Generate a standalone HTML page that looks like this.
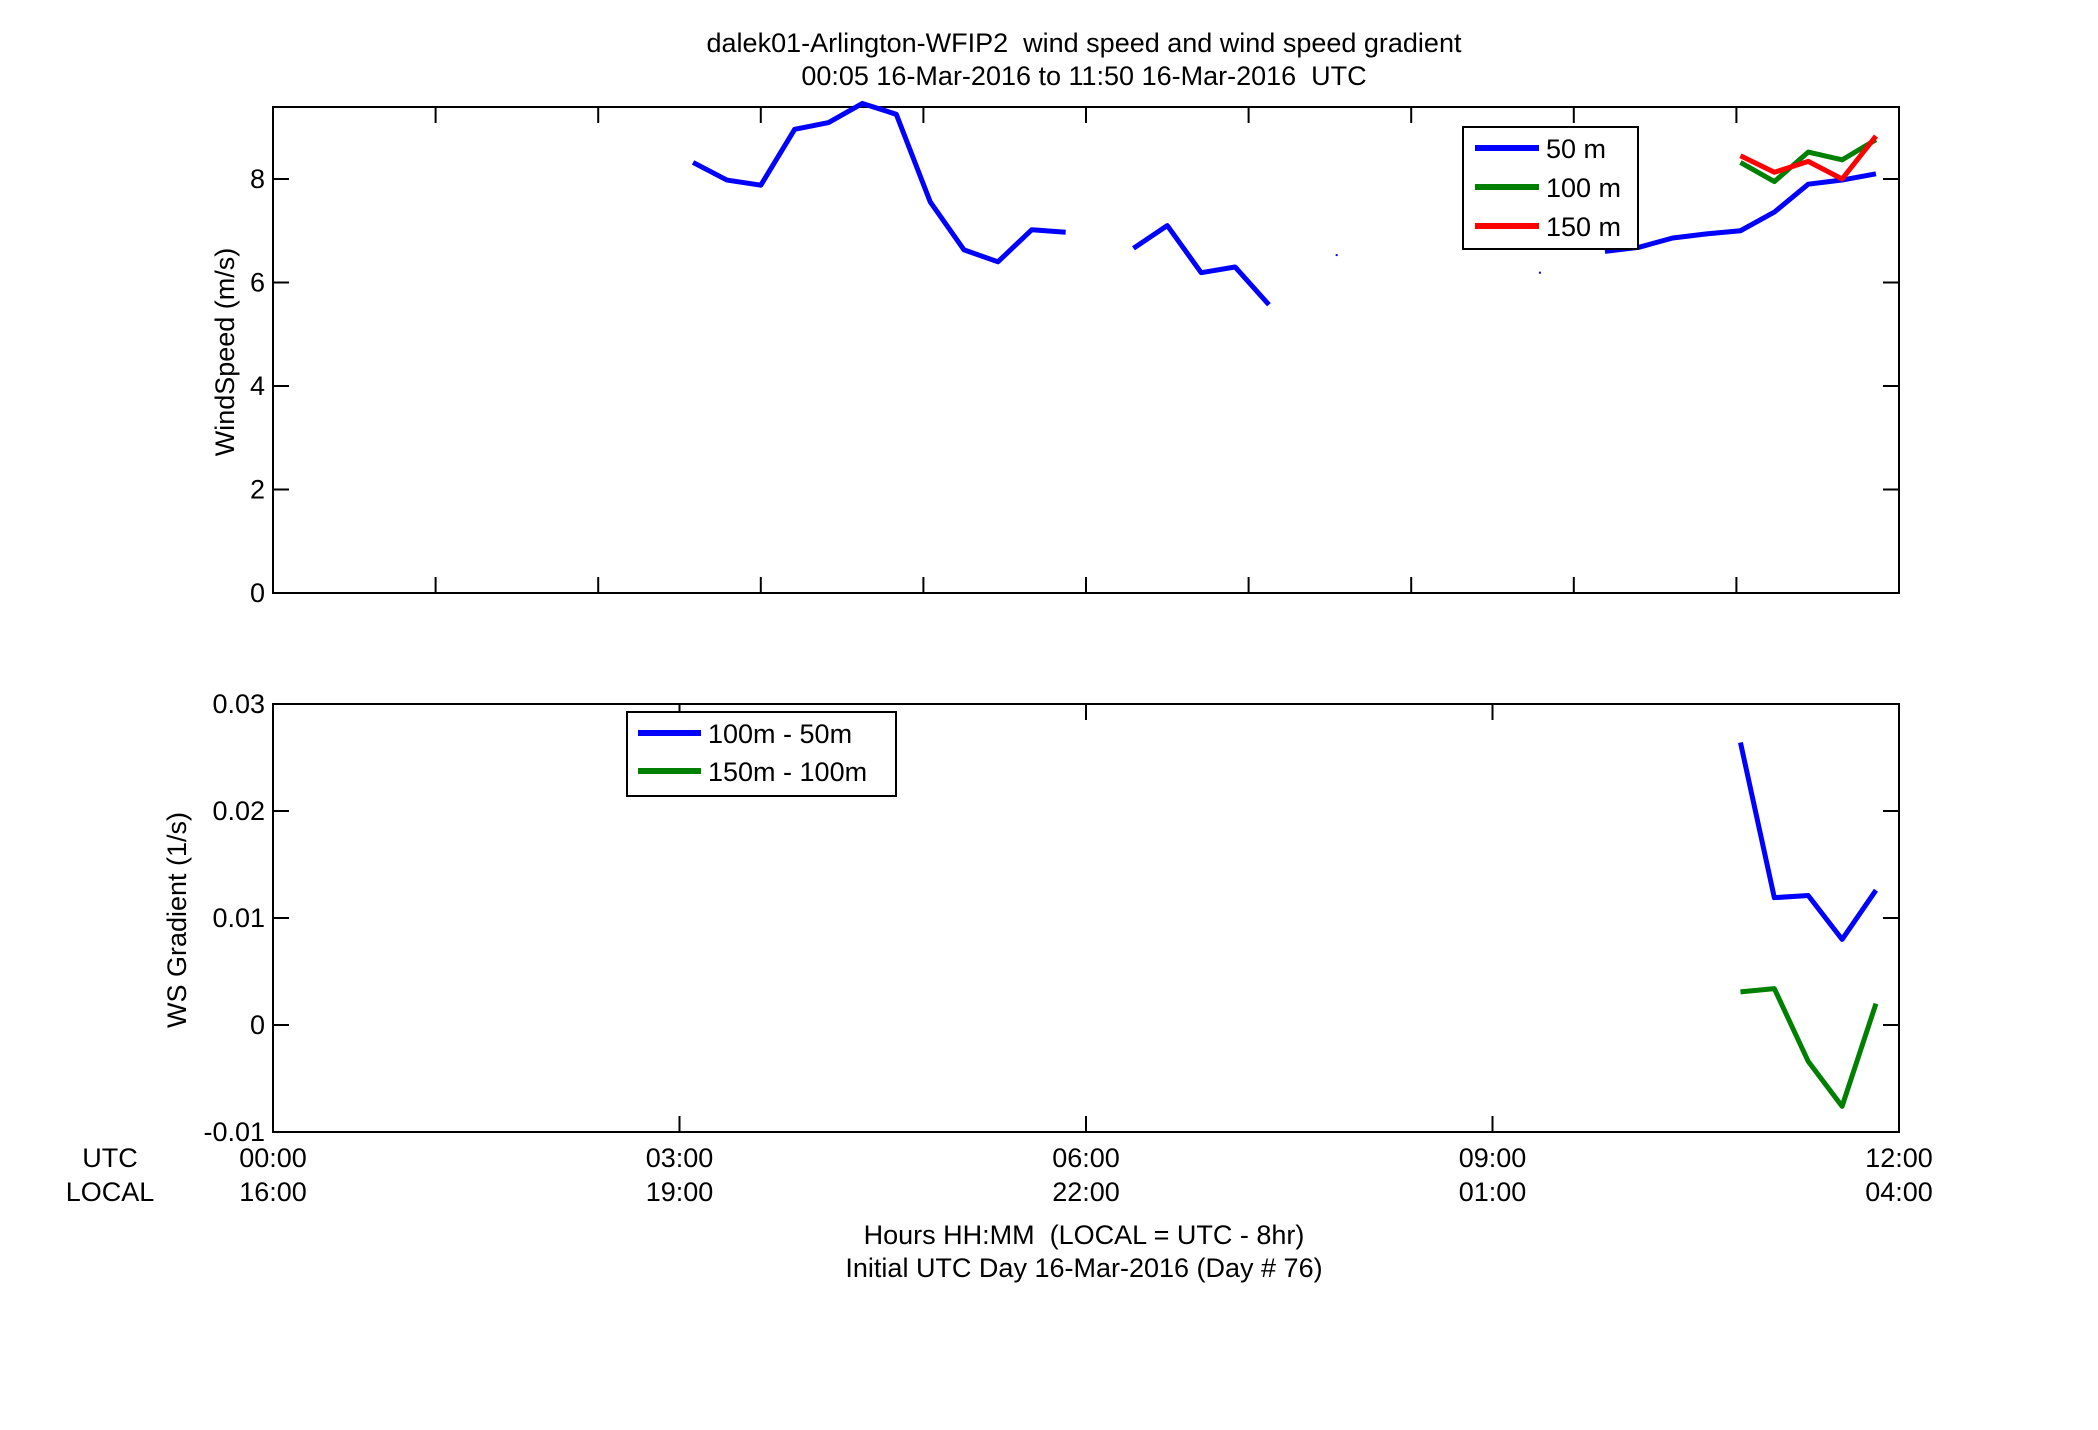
<!DOCTYPE html>
<html><head><meta charset="utf-8"><style>
body{margin:0;background:#fff}
svg text{font-family:"Liberation Sans",sans-serif;font-size:27px;fill:#000;white-space:pre}
</style></head><body>
<svg width="2098" height="1425" viewBox="0 0 2098 1425" xmlns="http://www.w3.org/2000/svg" xml:space="preserve">
<g id="root"></g>
</svg>
<script>
const topTimes = [3.10,3.35,3.60,3.85,4.10,4.35,4.60,4.85,5.10,5.35,5.60,5.85,6.10,6.35,6.60,6.85,7.10,7.35,7.60,7.85,8.10,8.35,8.60,8.85,9.10,9.35,9.60,9.83,10.08,10.33,10.58,10.83,11.08,11.33,11.58,11.83];
const ws50 = [8.32,7.98,7.88,8.96,9.09,9.46,9.25,7.56,6.63,6.40,7.02,6.97,null,6.66,7.10,6.19,6.30,5.57,null,6.53,null,null,null,null,null,6.19,null,6.60,6.68,6.86,6.94,7.00,7.36,7.90,7.98,8.10];
const gradTimes = [10.83,11.08,11.33,11.58,11.83];
const ws100 = [8.32,7.95,8.52,8.37,8.76];
const ws150 = [8.45,8.13,8.34,8.00,8.83];
const grad1 = [0.0264,0.0119,0.0121,0.0080,0.0126];
const grad2 = [0.0031,0.0034,-0.0034,-0.0076,0.0020];
const wsTicks = [0,2,4,6,8];
const gradTicks = [0.03,0.02,0.01,0,-0.01];
const gradTickLabels = ["0.03","0.02","0.01","0","-0.01"];
const utcLabels = ["00:00","03:00","06:00","09:00","12:00"];
const localLabels = ["16:00","19:00","22:00","01:00","04:00"];
const utcHours = [0,3,6,9,12];

const NS="http://www.w3.org/2000/svg";
const root=document.getElementById('root');
const L=273,R=1899;
const T1=107,B1=593,T2=704,B2=1132;
const yMax1=(B1-T1)/((B1-179)/8);
const x=h=>L+(R-L)*h/12;
const y1=v=>B1-(B1-T1)*v/yMax1;
const y2=v=>B2-(B2-T2)*(v+0.01)/0.04;
function mk(tag,attrs,txt){const e=document.createElementNS(NS,tag);for(const k in attrs)e.setAttribute(k,attrs[k]);if(txt!==undefined)e.textContent=txt;root.appendChild(e);return e;}
function line(x1,y1_,x2,y2_,name){const e=mk('line',{x1:x1,y1:y1_,x2:x2,y2:y2_,stroke:'#000','stroke-width':2});

return e;}
function text(tx,ty,s,anchor,name,extra){const e=mk('text',Object.assign({x:tx,y:ty,'text-anchor':anchor},extra||{}),s);

return e;}
function series(xs,ys,yf,color,name){let segs=[],cur=[];xs.forEach((t,i)=>{if(ys[i]===null){if(cur.length)segs.push(cur);cur=[];}else cur.push([x(t),yf(ys[i])]);});if(cur.length)segs.push(cur);
segs.forEach(s=>{let d;if(s.length===1){d=`M${s[0][0]-1},${s[0][1]}L${s[0][0]+1},${s[0][1]}`;}else d='M'+s.map(p=>p.join(',')).join('L');
const p=mk('path',{d:d,fill:'none',stroke:color,'stroke-width':s.length===1?2:5,'stroke-linejoin':'round'});

});}

text(1084,52,"dalek01-Arlington-WFIP2  wind speed and wind speed gradient","middle","chart-title");
text(1084,85,"00:05 16-Mar-2016 to 11:50 16-Mar-2016  UTC","middle","chart-subtitle");

const ax1=mk('rect',{x:L,y:T1,width:R-L,height:B1-T1,fill:'none',stroke:'#000','stroke-width':2});


wsTicks.forEach(v=>{line(L,y1(v),L+16,y1(v),'y-tick');line(R-16,y1(v),R,y1(v),'y-tick');text(L-8,y1(v)+9,String(v),'end','y-tick-label');});
for(let i=1;i<10;i++){const h=1.2*i;line(x(h),T1,x(h),T1+16,'x-tick');line(x(h),B1-16,x(h),B1,'x-tick');}
text(0,0,"WindSpeed (m/s)","middle","y-axis-title-windspeed",{transform:`translate(234,352) rotate(-90)`});
series(topTimes,ws50,y1,'#0000ff','line-50m');
series(gradTimes,ws100,y1,'#008000','line-100m');
series(gradTimes,ws150,y1,'#ff0000','line-150m');
const lg1=mk('rect',{x:1463,y:127,width:175,height:122,fill:'#fff',stroke:'#000','stroke-width':2});


[['50 m','#0000ff',148],['100 m','#008000',187],['150 m','#ff0000',226]].forEach(([s,c,yy])=>{const l=mk('line',{x1:1475,y1:yy,x2:1539,y2:yy,stroke:c,'stroke-width':6});


text(1546,yy+10,s,'start','legend-entry');});

const ax2=mk('rect',{x:L,y:T2,width:R-L,height:B2-T2,fill:'none',stroke:'#000','stroke-width':2});


gradTicks.forEach((v,i)=>{line(L,y2(v),L+16,y2(v),'y-tick');line(R-16,y2(v),R,y2(v),'y-tick');text(L-8,y2(v)+9,gradTickLabels[i],'end','y-tick-label');});
utcHours.forEach((h,i)=>{if(i>0&&i<4){line(x(h),T2,x(h),T2+16,'x-tick');line(x(h),B2-16,x(h),B2,'x-tick');}
text(x(h),1167,utcLabels[i],'middle','x-tick-label-utc');text(x(h),1201,localLabels[i],'middle','x-tick-label-local');});
text(110,1167,"UTC","middle","utc-label");
text(110,1201,"LOCAL","middle","local-label");
text(1084,1244,"Hours HH:MM  (LOCAL = UTC - 8hr)","middle","x-axis-title");
text(1084,1277,"Initial UTC Day 16-Mar-2016 (Day # 76)","middle","x-axis-subtitle");
text(0,0,"WS Gradient (1/s)","middle","y-axis-title-gradient",{transform:`translate(186,920) rotate(-90)`});
series(gradTimes,grad1,y2,'#0000ff','line-grad-100-50');
series(gradTimes,grad2,y2,'#008000','line-grad-150-100');
const lg2=mk('rect',{x:627,y:712,width:269,height:84,fill:'#fff',stroke:'#000','stroke-width':2});


[['100m - 50m','#0000ff',733],['150m - 100m','#008000',771]].forEach(([s,c,yy])=>{const l=mk('line',{x1:638,y1:yy,x2:701,y2:yy,stroke:c,'stroke-width':6});


text(708,yy+10,s,'start','legend-entry');});
</script>
</body></html>
